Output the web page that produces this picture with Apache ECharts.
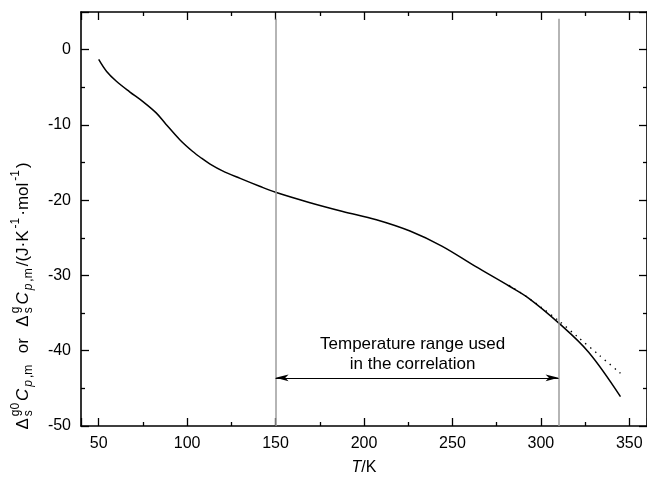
<!DOCTYPE html>
<html>
<head>
<meta charset="utf-8">
<script src="https://cdn.jsdelivr.net/npm/echarts@6/dist/echarts.min.js"></script>
<style>
html, body { margin: 0; padding: 0; background: #fff; }
#chart { width: 647px; height: 481px; }
</style>
</head>
<body>
<div id="chart"></div>
<script>
// Solvation heat capacity curve, T in K, value in J·K⁻¹·mol⁻¹
const temperatureK = [50, 54.5, 60, 67.5, 75, 82.5, 88, 96, 103, 108, 113, 120, 130, 141, 150,
  169, 188, 207, 226, 244, 263, 282, 293, 310, 327, 345];
const heatCapacity = [-1.3, -2.9, -4.2, -5.6, -6.9, -8.4, -9.9, -12.0, -13.5, -14.4, -15.2, -16.1, -17.1, -18.15, -18.95,
  -20.3, -21.5, -22.6, -24.1, -26.1, -28.8, -31.4, -33.0, -36.3, -40.2, -46.1];

// Correlation (dotted), shown where it departs from the curve
const fitTemperatureK = [282, 293, 300, 310, 321, 333, 345];
const fitHeatCapacity = [-31.3, -33.0, -34.2, -36.0, -38.2, -40.6, -43.0];

// Correlation range limits and the arrow between them
const rangeLimitsK = [150, 310];
const rangeLineTop = 4.1;
const arrowLevel = -43.6;
const rangeCaption = ['Temperature range used', 'in the correlation'];

const xRange = [40, 360];
const yRange = [-50, 5];

const FONT = '"Liberation Sans", Arial, Helvetica, sans-serif';

const chart = echarts.init(document.getElementById('chart'), null, { renderer: 'canvas' });

function axisBase(extra) {
  return Object.assign({
    type: 'value',
    scale: false,
    axisLine: { show: true, onZero: false, lineStyle: { color: '#000', width: 1.6 } },
    axisTick: { show: true, inside: true, length: 8, lineStyle: { color: '#000', width: 1.3 } },
    minorTick: { show: true, splitNumber: 2, length: 4, lineStyle: { color: '#000', width: 1.3 } },
    splitLine: { show: false },
    minorSplitLine: { show: false }
  }, extra);
}

const tickLabel = { color: '#000', fontSize: 16, fontFamily: FONT, showMinLabel: false, showMaxLabel: false };

const xy = (xs, ys) => xs.map((x, i) => [x, ys[i]]);

const option = {
  animation: false,
  backgroundColor: '#fff',
  grid: { left: 81, top: 12, width: 569, height: 415, containLabel: false },
  xAxis: [
    axisBase({
      position: 'bottom', min: xRange[0], max: xRange[1],
      axisLabel: Object.assign({ margin: 10 }, tickLabel),
      name: '{i|T}/K', nameLocation: 'middle', nameGap: 34,
      nameTextStyle: { color: '#000', fontSize: 16, fontFamily: FONT,
        rich: { i: { fontStyle: 'italic', fontSize: 16, fontFamily: FONT, color: '#000' } } }
    }),
    axisBase({
      position: 'top', min: xRange[0], max: xRange[1],
      axisLabel: { show: false }
    })
  ],
  yAxis: [
    axisBase({
      position: 'left', min: yRange[0], max: yRange[1],
      axisLabel: Object.assign({ margin: 10 }, tickLabel, { showMinLabel: true })
    }),
    axisBase({
      position: 'right', min: yRange[0], max: yRange[1],
      axisLabel: { show: false }
    })
  ],
  series: [
    {
      type: 'line', name: 'limits', xAxisIndex: 0, yAxisIndex: 0,
      data: [], symbol: 'none', silent: true,
      markLine: {
        silent: true, symbol: ['none', 'none'],
        label: { show: false },
        lineStyle: { color: '#9c9c9c', width: 1.5, type: 'solid' },
        data: rangeLimitsK.map(t => [{ coord: [t, rangeLineTop] }, { coord: [t, yRange[0]] }])
      }
    },
    {
      type: 'line', name: 'range', xAxisIndex: 0, yAxisIndex: 0,
      data: [], symbol: 'none', silent: true,
      markLine: {
        silent: true, symbol: ['arrow', 'arrow'], symbolSize: [5, 13],
        label: { show: false },
        lineStyle: { color: '#000', width: 1.1, type: 'solid' },
        data: [[{ coord: [rangeLimitsK[0], arrowLevel] }, { coord: [rangeLimitsK[1], arrowLevel] }]]
      }
    },
    {
      type: 'line', name: 'correlation', data: xy(fitTemperatureK, fitHeatCapacity),
      symbol: 'none', smooth: 0.3,
      lineStyle: { color: '#000', width: 1.4, type: [1.4, 5] }
    },
    {
      type: 'line', name: 'heat capacity', data: xy(temperatureK, heatCapacity),
      symbol: 'none', smooth: 0.35,
      lineStyle: { color: '#000', width: 1.5 }
    }
  ]
};

chart.setOption(option);

// Caption between the range limits
const capX = chart.convertToPixel({ xAxisIndex: 0 }, 227.5);
const capY = chart.convertToPixel({ yAxisIndex: 0 }, -40.5);

// Rotated y-axis title with stacked sub/superscripts
const measureCtx = document.createElement('canvas').getContext('2d');
function fontOf(size, italic) { return (italic ? 'italic ' : '') + size + 'px ' + FONT; }
function widthOf(text, size, italic) { measureCtx.font = fontOf(size, italic); return measureCtx.measureText(text).width; }

const MAIN = 17, SMALL = 12, SUP = -7, SUB = 6, GAP = 2;
const titleParts = [
  { t: 'Δ' },
  { stack: [{ t: 'g0', s: SMALL, dy: SUP }, { t: 's', s: SMALL, dy: SUB }] },
  { t: 'C', it: true },
  { t: 'p', s: SMALL, it: true, dy: SUB },
  { t: ',m', s: SMALL, dy: SUB },
  { t: '  or  ' },
  { t: 'Δ' },
  { stack: [{ t: 'g', s: SMALL, dy: SUP }, { t: 's', s: SMALL, dy: SUB }] },
  { t: 'C', it: true },
  { t: 'p', s: SMALL, it: true, dy: SUB },
  { t: ',m', s: SMALL, dy: SUB },
  { t: '/(J·K' },
  { t: '-1', s: SMALL, dy: SUP },
  { t: '·mol' },
  { t: '-1', s: SMALL, dy: SUP },
  { t: ')' }
];
const titleChildren = [];
let cursor = 0;
titleParts.forEach(p => {
  const group = p.stack || [p];
  let adv = 0;
  group.forEach(g => {
    const size = g.s || MAIN;
    titleChildren.push({
      type: 'text', x: cursor, y: g.dy || 0,
      style: { text: g.t, font: fontOf(size, g.it), fill: '#000', align: 'left', verticalAlign: 'middle' }
    });
    adv = Math.max(adv, widthOf(g.t, size, g.it));
  });
  cursor += adv + GAP;
});
cursor -= GAP;
const titleCenterY = 296;

chart.setOption({
  graphic: [
    {
      type: 'group', x: 23, y: titleCenterY + cursor / 2, rotation: Math.PI / 2,
      children: titleChildren
    },
    {
      type: 'text', x: capX, y: capY,
      style: { text: rangeCaption.join('\n'), font: '17px ' + FONT, fill: '#000',
        align: 'center', verticalAlign: 'middle', lineHeight: 20 }
    }
  ]
});
</script>
</body>
</html>
